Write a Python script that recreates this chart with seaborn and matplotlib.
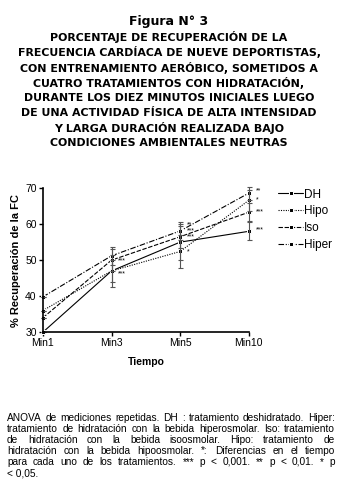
import numpy as np
import pandas as pd
import matplotlib
matplotlib.use("Agg")
import matplotlib.pyplot as plt
import seaborn as sns

tiempos = ["Min1", "Min3", "Min5", "Min10"]
tratamientos = ["DH", "Hipo", "Iso", "Hiper"]
dh = [30.0, 47.0, 55.0, 58.0]
hipo = [36.0, 47.0, 52.4, 66.6]
iso = [34.0, 50.0, 56.5, 63.3]
hiper = [39.8, 51.2, 58.1, 68.6]
err_dh = [0.0, 4.5, 5.0, 2.5]
err_hipo = [0.0, 3.0, 4.5, 3.0]
err_iso = [0.0, 3.0, 3.0, 2.5]
err_hiper = [0.0, 2.5, 2.5, 1.8]
# asteriscos de significancia (tiempo, valor, texto)
sig_tiempo = [1, 1, 2, 2, 2, 2, 3, 3, 3, 3]
sig_valor = [49.8, 46.1, 59.8, 58.2, 56.5, 52.3, 69.3, 66.7, 63.3, 58.3]
sig_texto = ["***", "***", "**", "***", "***", "*", "**", "*", "***", "***"]

titulo = ["PORCENTAJE DE RECUPERACIÓN DE LA",
          "FRECUENCIA CARDÍACA DE NUEVE DEPORTISTAS,",
          "CON ENTRENAMIENTO AERÓBICO, SOMETIDOS A",
          "CUATRO TRATAMIENTOS CON HIDRATACIÓN,",
          "DURANTE LOS DIEZ MINUTOS INICIALES LUEGO",
          "DE UNA ACTIVIDAD FÍSICA DE ALTA INTENSIDAD",
          "Y LARGA DURACIÓN REALIZADA BAJO",
          "CONDICIONES AMBIENTALES NEUTRAS"]
nota = ["ANOVA de mediciones repetidas. DH : tratamiento deshidratado. Hiper:",
        "tratamiento de hidratación con la bebida hiperosmolar. Iso: tratamiento",
        "de hidratación con la bebida isoosmolar. Hipo: tratamiento de",
        "hidratación con la bebida hipoosmolar. *: Diferencias en el tiempo",
        "para cada uno de los tratamientos. *** p < 0,001. ** p < 0,01. * p",
        "< 0,05."]

series = {"DH": dh, "Hipo": hipo, "Iso": iso, "Hiper": hiper}
errores = {"DH": err_dh, "Hipo": err_hipo, "Iso": err_iso, "Hiper": err_hiper}
df = pd.DataFrame([(t, k, v[i]) for k, v in series.items() for i, t in enumerate(tiempos)],
                  columns=["Tiempo", "Tratamiento", "FC"])

sns.set_theme(style="ticks")
plt.rcParams["font.family"] = ["Liberation Sans", "DejaVu Sans"]
for k in ["text.color", "axes.labelcolor", "xtick.color", "ytick.color", "axes.edgecolor"]:
    plt.rcParams[k] = "black"
narrow = ["Liberation Sans Narrow", "Liberation Sans", "DejaVu Sans"]

fig = plt.figure(figsize=(3.38, 4.95), dpi=100)
ax = fig.add_axes([0.127, 0.329, 0.609, 0.291])

dashes = {"DH": "", "Hipo": (1, 1.2), "Iso": (4, 1.5), "Hiper": (5, 1.5, 1, 1.5)}
sns.lineplot(data=df, x="Tiempo", y="FC", hue="Tratamiento", style="Tratamiento",
             palette=["black"] * 4, dashes=dashes, markers=["s"] * 4,
             markersize=2.5, lw=0.8, ax=ax, sort=False, clip_on=False)

for k in tratamientos:
    ax.errorbar(range(len(tiempos)), series[k], yerr=errores[k], fmt="none",
                ecolor="#555555", elinewidth=0.8, capsize=1.8, capthick=0.8,
                clip_on=False)
for t, v, s in zip(sig_tiempo, sig_valor, sig_texto):
    ax.text(t + 0.1, v, s, fontsize=5, va="center", ha="left")

ax.set_ylim(30, 70)
ax.set_xlim(0, 3)
ax.set_yticks([30, 40, 50, 60, 70])
ax.set_xlabel("Tiempo", fontsize=7.5, weight="bold", labelpad=6)
ax.set_ylabel("% Recuperación de la FC", fontsize=8, weight="bold", labelpad=3)
ax.tick_params(labelsize=7.5, length=3, width=1, pad=1.5)
for s in ["left", "bottom"]:
    ax.spines[s].set_linewidth(1.2)
sns.despine(ax=ax)
ax.legend(loc="upper left", bbox_to_anchor=(1.12, 1.03), frameon=False,
          fontsize=8.5, handlelength=2.1, handletextpad=0.1, labelspacing=0.42,
          borderaxespad=0)

fig.text(0.5, 1 - 21.5 / 495, "Figura N° 3", ha="center", va="center",
         fontsize=9, weight="bold", family=["DejaVu Sans"])
for i, linea in enumerate(titulo):
    fig.text(0.5, 1 - (37.3 + 15.1 * i) / 495, linea, ha="center", va="center",
             fontsize=7.9, weight="bold", family=["DejaVu Sans"])

# nota al pie justificada
ren = fig.canvas.get_renderer()
x0, x1 = 7 / 338, 335 / 338
for i, linea in enumerate(nota):
    y = 1 - (418 + 11 * i) / 495
    palabras = linea.split(" ")
    if i == len(nota) - 1:
        fig.text(x0, y, linea, fontsize=7.3, va="center", ha="left", family=narrow)
        continue
    objs = [fig.text(0, y, p, fontsize=7.3, va="center", ha="left", family=narrow)
            for p in palabras]
    anchos = [o.get_window_extent(ren).width / fig.bbox.width for o in objs]
    hueco = (x1 - x0 - sum(anchos)) / (len(palabras) - 1)
    x = x0
    for o, w in zip(objs, anchos):
        o.set_x(x)
        x += w + hueco

fig.savefig("out.png", dpi=100)
